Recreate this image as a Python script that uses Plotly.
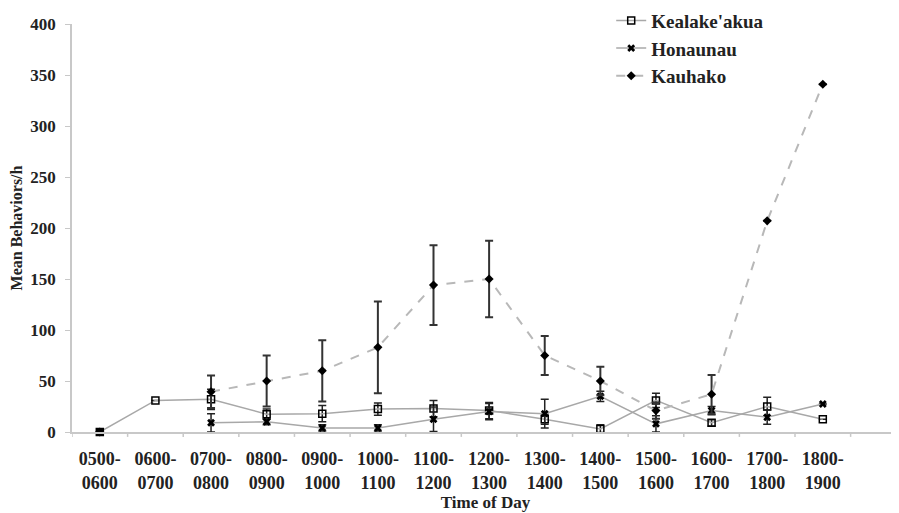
import plotly.graph_objects as go

categories = ["0500-<br>0600", "0600-<br>0700", "0700-<br>0800", "0800-<br>0900", "0900-<br>1000",
              "1000-<br>1100", "1100-<br>1200", "1200-<br>1300", "1300-<br>1400", "1400-<br>1500",
              "1500-<br>1600", "1600-<br>1700", "1700-<br>1800", "1800-<br>1900"]

kealakeakua = [0, 31, 32, 17.5, 18, 22.5, 23, 21, 12.5, 3, 31, 9, 25, 12.5]
kealakeakua_err = [0, 0, 10, 5, 8, 6, 8, 8, 5, 4, 7, 3, 9, 0]

honaunau = [0, None, 9, 10, 4, 4, 12.5, 20, 18, 35, 8, 21, 14.5, 27.5]
honaunau_err = [0, 0, 9, 3, 3, 3, 12, 8, 14, 5, 8, 4, 7, 0]

kauhako = [0, None, 39.5, 50, 60, 83, 144, 150, 75, 50, 21, 37, 207, 341]
kauhako_err = [0, 0, 16, 25, 30, 45, 39, 37.5, 19, 14, 8, 19, 0, 0]

x = list(range(len(categories)))

fig = go.Figure()

fig.add_trace(go.Scatter(
    x=x, y=kealakeakua, name="Kealake'akua", mode="lines+markers",
    line=dict(color="#a8a8a8", width=1.5),
    marker=dict(symbol="square-open", size=7, color="black", line=dict(width=1.5)),
    error_y=dict(type="data", array=kealakeakua_err, visible=True, color="#222", thickness=1.5, width=4),
    cliponaxis=False,
))
fig.add_trace(go.Scatter(
    x=x, y=honaunau, name="Honaunau", mode="lines+markers",
    line=dict(color="#a8a8a8", width=1.5),
    marker=dict(symbol="x", size=7, color="black"),
    error_y=dict(type="data", array=honaunau_err, visible=True, color="#222", thickness=1.5, width=4),
    cliponaxis=False,
))
fig.add_trace(go.Scatter(
    x=x, y=kauhako, name="Kauhako", mode="lines+markers",
    line=dict(color="#b8b8b8", width=2, dash="dash"),
    marker=dict(symbol="diamond", size=7, color="black"),
    error_y=dict(type="data", array=kauhako_err, visible=True, color="#333", thickness=2, width=4),
    cliponaxis=False,
))

font_family = "Liberation Serif, Times New Roman, serif"

fig.update_layout(
    width=891, height=505,
    margin=dict(l=64, r=0, t=16, b=81, autoexpand=False),
    paper_bgcolor="white", plot_bgcolor="white",
    font=dict(family=font_family, size=15, color="#222"),
    showlegend=True,
    legend=dict(x=0.652, y=1.055, xanchor="left", yanchor="top",
                font=dict(family=font_family, size=19, color="#222", weight="bold"),
                bgcolor="rgba(0,0,0,0)", tracegroupgap=0, itemwidth=30),
    xaxis=dict(
        tickmode="array", tickvals=x, ticktext=["<b>%s</b>" % c for c in categories],
        range=[-0.5, 14.37], showline=True, linecolor="#c8c8c8", linewidth=1.5,
        showgrid=False, zeroline=False, ticks="", automargin=False,
        tickfont=dict(family=font_family, size=18, color="#222"),
        ticklabelstandoff=10,
        title=dict(text="<b>Time of Day</b>", font=dict(family=font_family, size=17, color="#222"), standoff=0),
    ),
    yaxis=dict(
        range=[0, 400], tickvals=[0, 50, 100, 150, 200, 250, 300, 350, 400],
        showline=True, linecolor="#c8c8c8", linewidth=1.5, automargin=False,
        showgrid=False, zeroline=False, ticks="outside", ticklen=5, tickcolor="#c8c8c8",
        tickfont=dict(family=font_family, size=17, color="#222", weight="bold"),
        ticklabelstandoff=6,
        title=dict(text="<b>Mean Behaviors/h</b>", font=dict(family=font_family, size=16, color="#222"), standoff=5),
    ),
)

# category boundary ticks on x axis
for b in [i - 0.5 for i in range(16)]:
    fig.add_shape(type="line", xref="x", yref="paper", x0=b, x1=b, y0=0, y1=-0.012,
                  line=dict(color="#c8c8c8", width=1.5))

fig.write_html("out.html")
